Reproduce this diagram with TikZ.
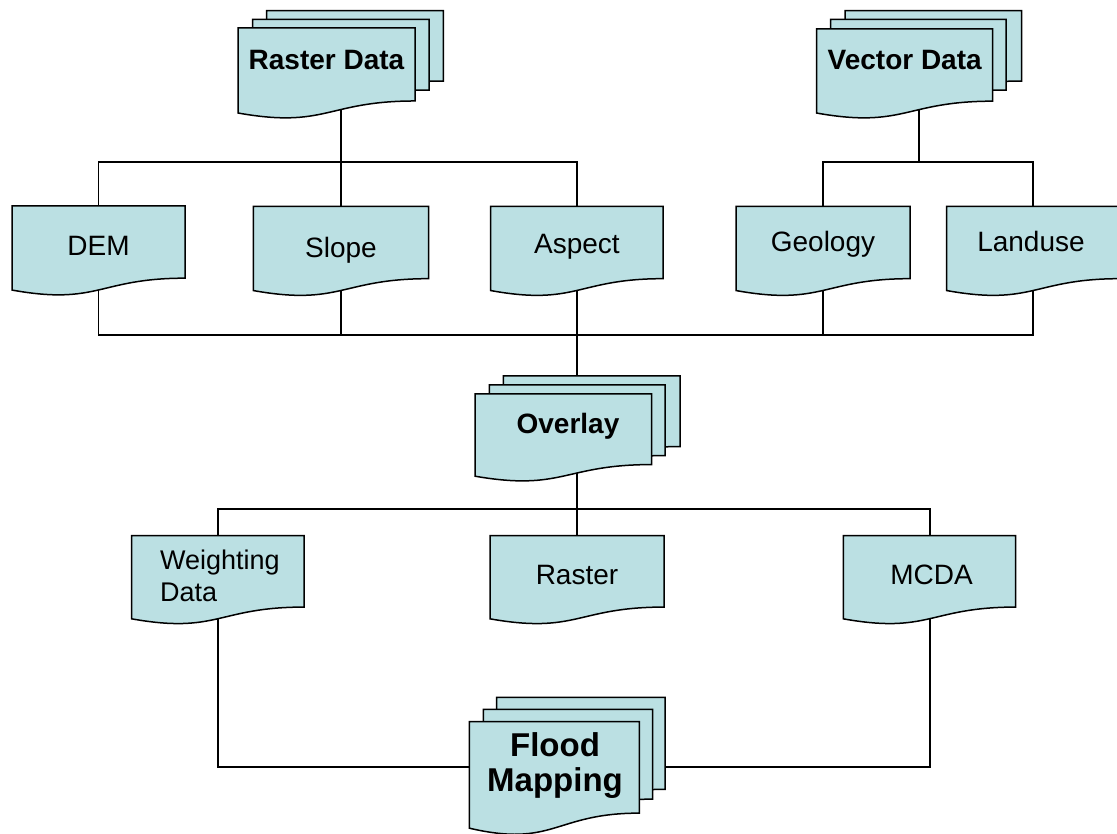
\documentclass[tikz,border=0pt]{standalone}
\usepackage{fontspec}
\setmainfont{Liberation Sans}
\definecolor{docblue}{RGB}{187,224,227}
\tikzset{
  docfill/.style={fill=docblue, draw=black, line width=1.5pt, line join=miter},
  anchorbox/.style={inner sep=0pt, outer sep=0pt, draw=none, shape=rectangle},
  conn/.style={draw=black, line width=1.8pt},
  connmid/.style={draw=black, line width=2pt},
  connthick/.style={draw=black, line width=2.6pt},
  lbl/.style={inner sep=0pt, anchor=base, text=black, font=\fontsize{28}{32}\selectfont},
  lblbold/.style={lbl, font=\fontsize{28}{32}\selectfont\bfseries},
}
% flowchart "document" sheet: left, top, right, height (wavy lower edge)
\newcommand\docshape[4]{%
  \pgfmathsetmacro\dsMid{(#1+#3)/2}%
  \pgfmathsetmacro\dsRight{#2+0.802*#4}%
  \pgfmathsetmacro\dsCtl{#2+1.1075*#4}%
  \pgfmathsetmacro\dsLeft{#2+0.934*#4}%
  \path[docfill] (#1,#2) -- (#3,#2) -- (#3,\dsRight)
     .. controls (\dsMid,\dsRight) and (\dsMid,\dsCtl) .. (#1,\dsLeft) -- cycle;}
% invisible node spanning a sheet (or a stack of sheets): name, left, top, right, bottom
\newcommand\boxnode[5]{%
  \pgfmathsetmacro\bnW{#4-#2}\pgfmathsetmacro\bnH{#5-#3}%
  \pgfmathsetmacro\bnX{(#2+#4)/2}\pgfmathsetmacro\bnY{(#3+#5)/2}%
  \node[anchorbox, minimum width=\bnW pt, minimum height=\bnH pt] (#1) at (\bnX,\bnY) {};}
\begin{document}
\begin{tikzpicture}[x=1pt, y=-1pt]
\useasboundingbox (0,0) rectangle (1117,834);
\fill[white] (0,0) rectangle (1117,834);
\clip (0,0) rectangle (1117,834);

% anchor nodes
\boxnode{raster}{238}{10.7}{444}{110}
\boxnode{vector}{817}{10.7}{1021}{110}
\boxnode{dem}{12}{206}{185}{290}
\boxnode{slope}{253}{206.5}{429}{290.5}
\boxnode{aspect}{491}{206.5}{663}{290.5}
\boxnode{geology}{736}{206.5}{910}{290.5}
\boxnode{landuse}{946}{206.5}{1120}{290.5}
\boxnode{overlay}{475}{376}{679}{473}
\boxnode{wdata}{132}{535.7}{304}{618.7}
\boxnode{rastertwo}{490}{535.7}{664}{618.7}
\boxnode{mcda}{843.5}{535.7}{1016.5}{618.7}
\boxnode{flood}{469.3}{697.3}{665}{824}

\coordinate (bus1) at (0,162);
\coordinate (bus2) at (0,335);
\coordinate (bus3) at (0,509);
\coordinate (bus4) at (0,767);

% connectors
\draw[conn] (raster.south) -- (raster.south |- bus1);
\draw[conn] (dem.north) |- (aspect.north |- bus1) -- (aspect.north);
\draw[conn] (slope.north) -- (slope.north |- bus1);
\draw[conn] (vector.south) -- (vector.south |- bus1);
\draw[conn] (geology.north) |- (landuse.north |- bus1) -- (landuse.north);
\draw[conn] (dem.south) |- (landuse.south |- bus2) -- (landuse.south);
\draw[conn] (slope.south) -- (slope.south |- bus2);
\draw[conn] (aspect.south) -- (aspect.south |- bus2);
\draw[conn] (geology.south) -- (geology.south |- bus2);
\draw[connthick] (slope.south |- bus2) -- (geology.south |- bus2);
\draw[connthick] (overlay.north |- bus2) -- (overlay.north);
\draw[connthick] (overlay.south) -- (overlay.south |- bus3);
\draw[connmid] (wdata.north) |- (mcda.north |- bus3) -- (mcda.north);
\draw[conn] (rastertwo.north) -- (rastertwo.north |- bus3);
\draw[conn] (wdata.south) |- (flood.west |- bus4);
\draw[conn] (mcda.south) |- (flood.east |- bus4);

% sheets
\docshape{266.7}{10.7}{443.3}{87.7}
\docshape{252.7}{19.3}{429}{88.2}
\docshape{238}{28}{415}{91}
\docshape{845}{10.7}{1021.7}{87.7}
\docshape{830.7}{19.3}{1006}{88.2}
\docshape{816.7}{29}{992.7}{90}
\docshape{12}{206}{185}{90}
\docshape{253.3}{206.5}{428.7}{90}
\docshape{490.7}{206.5}{663}{90}
\docshape{736}{206.5}{910}{90}
\docshape{946.7}{206.5}{1120}{90}
\docshape{503.3}{376}{680}{88}
\docshape{489.3}{385}{665}{88}
\docshape{475}{394}{651.7}{88}
\docshape{131.7}{535.7}{304}{89}
\docshape{490}{535.7}{664}{89}
\docshape{843.3}{535.7}{1015.7}{89}
\docshape{496.7}{697.3}{665}{114.7}
\docshape{483.3}{709.3}{652.7}{112}
\docshape{469.3}{721.7}{639.3}{114}

% labels
\node[lblbold] (t-raster) at (326.5,70) {Raster Data};
\node[lblbold] (t-vector) at (904.7,70) {Vector Data};
\node[lbl] (t-dem) at (98.5,256) {DEM};
\node[lbl] (t-slope) at (341,258) {Slope};
\node[lbl] (t-aspect) at (576.9,254) {Aspect};
\node[lbl] (t-geology) at (823,252) {Geology};
\node[lbl] (t-landuse) at (1031,252) {Landuse};
\node[lblbold] (t-overlay) at (568,433) {Overlay};
\node[lbl, anchor=west, align=left, font=\fontsize{27}{31.7}\selectfont] (t-wdata) at (160,576) {Weighting\\Data};
\node[lbl] (t-rastertwo) at (577,584) {Raster};
\node[lbl] (t-mcda) at (931.5,584) {MCDA};
\node[lblbold, anchor=center, align=center, font=\fontsize{33}{35}\selectfont\bfseries] (t-flood) at (555,766) {Flood\\Mapping};
\end{tikzpicture}
\end{document}
